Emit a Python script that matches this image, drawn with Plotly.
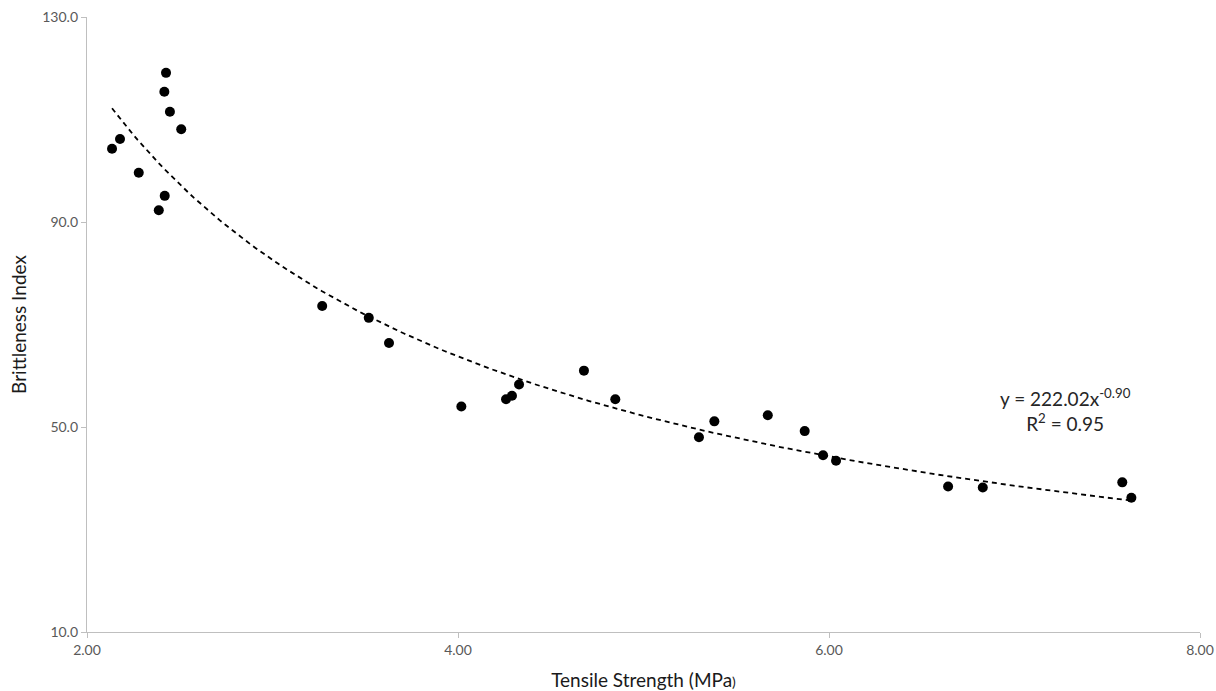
import numpy as np
import plotly.graph_objects as go

tensile_strength = [2.135, 2.178, 2.279, 2.426, 2.417, 2.447, 2.508, 2.419, 2.387,
                    3.268, 3.519, 3.628, 4.018, 4.259, 4.291, 4.329, 4.679, 4.848,
                    5.299, 5.382, 5.670, 5.869, 5.968, 6.038, 6.642, 6.829, 7.581, 7.630]
brittleness = [104.3, 106.2, 99.6, 119.1, 115.4, 111.5, 108.1, 95.1, 92.3,
               73.6, 71.3, 66.4, 54.0, 55.4, 56.1, 58.3, 61.0, 55.4,
               48.0, 51.1, 52.3, 49.2, 44.5, 43.4, 38.4, 38.2, 39.2, 36.2]
fit_coef = [222.02, -0.90]  # y = a * x^b
fit_r2 = 0.95

x_ticks = [2.0, 4.0, 6.0, 8.0]
y_ticks = [10.0, 50.0, 90.0, 130.0]

xf = np.linspace(min(tensile_strength), max(tensile_strength), 200)
yf = fit_coef[0] * xf ** fit_coef[1]

font_family = "Lato, 'Open Sans', sans-serif"
fig = go.Figure()
fig.add_trace(go.Scatter(x=xf, y=yf, mode="lines",
                         line=dict(color="black", width=1.8, dash="5px,4px"),
                         hoverinfo="skip", showlegend=False))
fig.add_trace(go.Scatter(x=tensile_strength, y=brittleness, mode="markers",
                         marker=dict(color="black", size=10),
                         showlegend=False))

fig.add_annotation(x=7.275, y=53.3, xref="x", yref="y",
                   text=f"y = {fit_coef[0]:.2f}x<sup>{fit_coef[1]:.2f}</sup><br>R<sup>2</sup> = {fit_r2:.2f}",
                   showarrow=False, align="center",
                   font=dict(size=19, color="#262626", family=font_family))

axis_common = dict(showgrid=False, zeroline=False, showline=True, linecolor="#bfbfbf",
                   linewidth=1.3, ticks="outside", ticklen=5, tickcolor="#bfbfbf",
                   automargin=False,
                   tickfont=dict(size=14, color="#595959", family=font_family))

fig.update_xaxes(range=[2, 8], tickvals=x_ticks, ticktext=[f"{v:.2f}" for v in x_ticks],
                 title=dict(text="Tensile Strength (MPa<span style='font-size:14px'>)</span>",
                            font=dict(size=19, color="#1a1a1a", family=font_family), standoff=16),
                 **axis_common)
fig.update_yaxes(range=[10, 130], tickvals=y_ticks, ticktext=[f"{v:.1f}" for v in y_ticks],
                 title=dict(text="Brittleness Index",
                            font=dict(size=19, color="#1a1a1a", family=font_family), standoff=10),
                 **axis_common)

fig.update_layout(width=1216, height=691, plot_bgcolor="white", paper_bgcolor="white",
                  margin=dict(l=87, r=16, t=17, b=59, autoexpand=False))

fig.write_html("out.html", config={"displayModeBar": False},
               post_script="document.body.style.margin='0';document.body.style.overflow='hidden';")
